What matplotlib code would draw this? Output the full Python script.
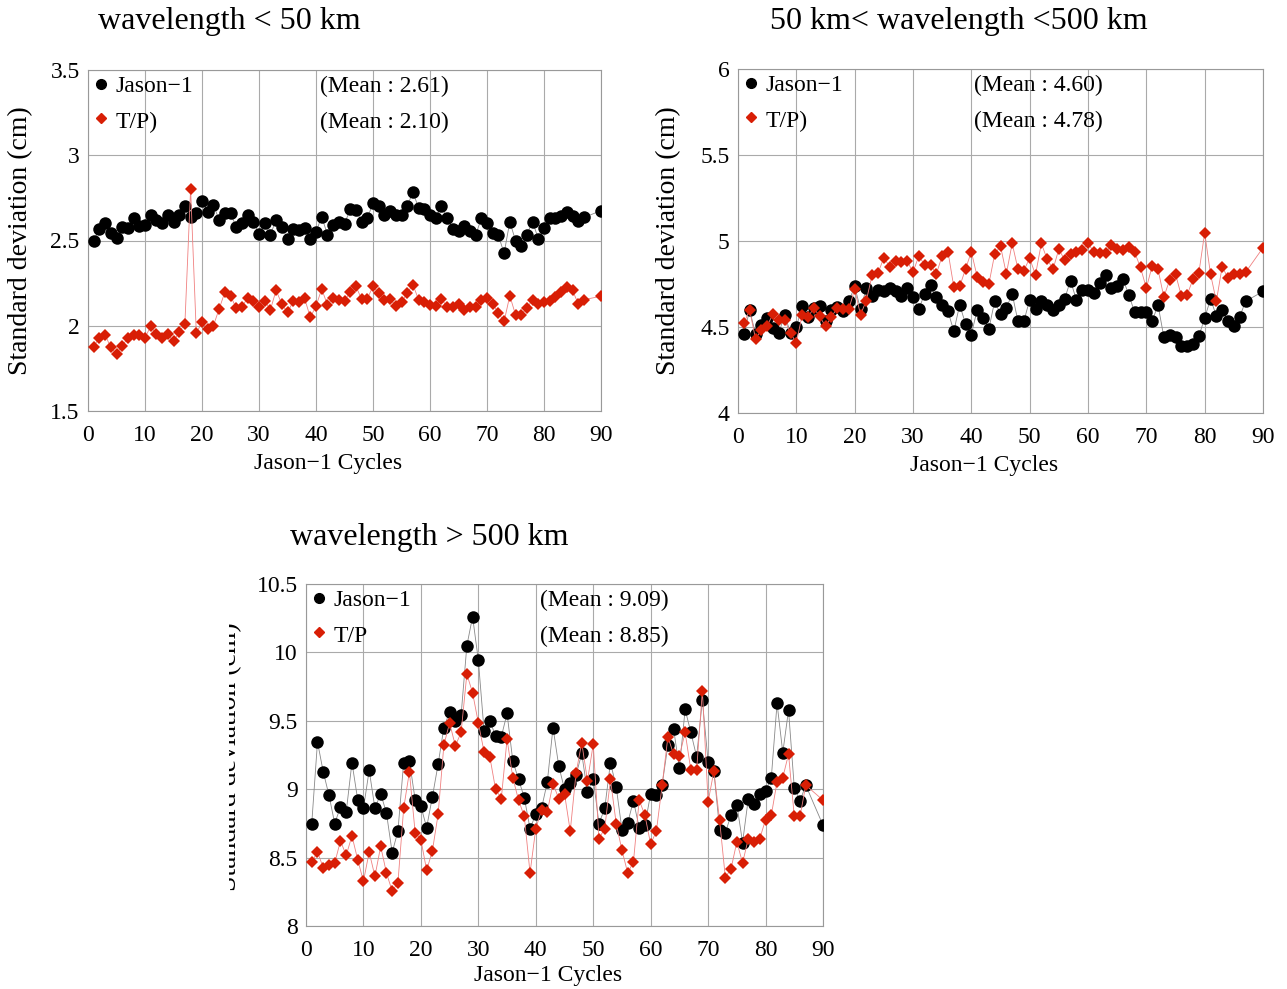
import numpy as np
import matplotlib
matplotlib.use("Agg")
import matplotlib.pyplot as plt
from matplotlib.transforms import Bbox, TransformedBbox

plt.rcParams['font.family'] = ['Liberation Serif', 'DejaVu Serif']

# Jason-1 cycles (88 and 89 are missing)
cycles = np.r_[1:88, 90]

# wavelength < 50 km
jason_short = [2.50, 2.565, 2.60, 2.545, 2.515, 2.58, 2.575, 2.63, 2.585, 2.59,
               2.65, 2.62, 2.60, 2.65, 2.61, 2.65, 2.70, 2.64, 2.66, 2.73,
               2.67, 2.71, 2.62, 2.66, 2.66, 2.58, 2.60, 2.65, 2.61, 2.54,
               2.60, 2.535, 2.62, 2.58, 2.51, 2.565, 2.56, 2.575, 2.51, 2.55,
               2.64, 2.535, 2.59, 2.61, 2.595, 2.685, 2.68, 2.61, 2.63, 2.72,
               2.70, 2.65, 2.675, 2.65, 2.65, 2.70, 2.785, 2.69, 2.685, 2.65,
               2.63, 2.70, 2.63, 2.57, 2.555, 2.585, 2.555, 2.53, 2.63, 2.60,
               2.545, 2.53, 2.425, 2.61, 2.50, 2.47, 2.535, 2.61, 2.51, 2.575,
               2.63, 2.63, 2.645, 2.665, 2.645, 2.615, 2.635, 2.675]
tp_short = [1.878, 1.931, 1.947, 1.873, 1.835, 1.884, 1.927, 1.943, 1.943, 1.931,
            1.996, 1.951, 1.927, 1.951, 1.908, 1.963, 2.012, 2.804, 1.957, 2.02,
            1.98, 2.0, 2.098, 2.196, 2.176, 2.104, 2.11, 2.163, 2.147, 2.11,
            2.147, 2.094, 2.208, 2.127, 2.078, 2.143, 2.14, 2.16, 2.05, 2.114,
            2.216, 2.123, 2.163, 2.149, 2.147, 2.198, 2.231, 2.157, 2.159, 2.231,
            2.192, 2.153, 2.159, 2.114, 2.137, 2.192, 2.241, 2.153, 2.139, 2.124,
            2.114, 2.159, 2.11, 2.11, 2.129, 2.094, 2.11, 2.108, 2.153, 2.163,
            2.129, 2.075, 2.025, 2.176, 2.065, 2.065, 2.104, 2.153, 2.129, 2.139,
            2.143, 2.169, 2.2, 2.227, 2.208, 2.129, 2.153, 2.173]

# 50 km < wavelength < 500 km
jason_mid = [4.461, 4.597, 4.461, 4.514, 4.552, 4.494, 4.465, 4.571, 4.465, 4.50,
             4.62, 4.556, 4.61, 4.624, 4.533, 4.597, 4.616, 4.591, 4.649, 4.736,
             4.604, 4.726, 4.678, 4.716, 4.707, 4.726, 4.712, 4.678, 4.726, 4.674,
             4.604, 4.693, 4.745, 4.674, 4.629, 4.591, 4.475, 4.629, 4.519, 4.456,
             4.60, 4.552, 4.488, 4.65, 4.575, 4.61, 4.693, 4.533, 4.533, 4.658,
             4.604, 4.649, 4.629, 4.597, 4.629, 4.664, 4.77, 4.658, 4.716, 4.716,
             4.697, 4.755, 4.803, 4.726, 4.736, 4.778, 4.687, 4.585, 4.585, 4.585,
             4.533, 4.629, 4.442, 4.456, 4.442, 4.392, 4.392, 4.403, 4.446, 4.552,
             4.662, 4.566, 4.60, 4.533, 4.508, 4.558, 4.649, 4.707]
tp_mid = [4.523, 4.597, 4.432, 4.481, 4.508, 4.575, 4.539, 4.539, 4.465, 4.407,
          4.571, 4.558, 4.61, 4.562, 4.504, 4.558, 4.61, 4.604, 4.604, 4.72,
          4.571, 4.654, 4.803, 4.813, 4.903, 4.851, 4.884, 4.88, 4.884, 4.819,
          4.913, 4.861, 4.861, 4.809, 4.913, 4.938, 4.732, 4.736, 4.836, 4.938,
          4.793, 4.764, 4.749, 4.923, 4.971, 4.809, 4.986, 4.836, 4.828, 4.90,
          4.803, 4.986, 4.894, 4.836, 4.952, 4.89, 4.925, 4.934, 4.948, 4.986,
          4.938, 4.929, 4.929, 4.977, 4.952, 4.948, 4.967, 4.934, 4.846, 4.726,
          4.855, 4.836, 4.674, 4.774, 4.809, 4.681, 4.687, 4.778, 4.813, 5.048,
          4.809, 4.649, 4.851, 4.784, 4.809, 4.809, 4.817, 4.961]

# wavelength > 500 km
jason_long = [8.749, 9.346, 9.127, 8.956, 8.749, 8.871, 8.834, 9.195, 8.924, 8.859,
              9.139, 8.859, 8.968, 8.827, 8.537, 8.693, 9.195, 9.207, 8.924, 8.876,
              8.72, 8.944, 9.183, 9.451, 9.566, 9.498, 9.541, 10.049, 10.261, 9.944,
              9.427, 9.50, 9.39, 9.383, 9.554, 9.207, 9.071, 8.939, 8.712, 8.817,
              8.86, 9.05, 9.451, 9.17, 9.0, 9.046, 9.102, 9.261, 8.976, 9.078,
              8.749, 8.859, 9.195, 9.017, 8.705, 8.754, 8.915, 8.72, 8.737, 8.968,
              8.956, 9.034, 9.322, 9.437, 9.156, 9.583, 9.415, 9.237, 9.651, 9.20,
              9.132, 8.705, 8.68, 8.815, 8.888, 8.61, 8.932, 8.895, 8.963, 8.985,
              9.083, 9.627, 9.268, 9.578, 9.012, 8.915, 9.029, 8.737]
tp_long = [8.468, 8.541, 8.427, 8.444, 8.461, 8.622, 8.517, 8.659, 8.485, 8.327,
           8.541, 8.363, 8.583, 8.388, 8.256, 8.315, 8.859, 9.127, 8.683, 8.632,
           8.407, 8.549, 8.817, 9.322, 9.485, 9.317, 9.415, 9.841, 9.705, 9.485,
           9.273, 9.237, 9.0, 8.932, 9.366, 9.085, 8.92, 8.802, 8.388, 8.712,
           8.846, 8.834, 9.041, 8.93, 8.968, 8.693, 9.115, 9.341, 9.061, 9.329,
           8.639, 8.712, 9.071, 8.749, 8.554, 8.388, 8.468, 8.92, 8.81, 8.598,
           8.695, 9.029, 9.383, 9.254, 9.241, 9.415, 9.139, 9.139, 9.72, 8.907,
           9.132, 8.773, 8.354, 8.42, 8.615, 8.461, 8.639, 8.615, 8.639, 8.778,
           8.81, 9.054, 9.085, 9.256, 8.802, 8.802, 9.029, 8.92]

W, H = 1287, 989
fig = plt.figure(figsize=(W / 100, H / 100), dpi=100)


def px_axes(x0, x1, y0, y1):
    # axes from pixel box (top-left origin)
    return fig.add_axes([x0 / W, 1 - y1 / H, (x1 - x0) / W, (y1 - y0) / H])


def draw_panel(ax, jas, tp, ylim, yticks, ylabels, means, tp_label, mean_x):
    ax.plot(cycles, jas, color='#888888', lw=0.6, zorder=2)
    ax.plot(cycles, jas, 'o', color='black', ms=9, mew=0, zorder=3)
    ax.plot(cycles, tp, color='#f08080', lw=0.6, zorder=4)
    ax.plot(cycles, tp, 'D', color='#d81e05', ms=6.5, mew=0, zorder=5)
    ax.set_xlim(0, 90)
    ax.set_ylim(*ylim)
    ax.set_xticks(range(0, 91, 10))
    ax.set_yticks(yticks)
    ax.set_yticklabels(ylabels)
    ax.grid(True, color='#aaaaaa', lw=0.8)
    ax.set_axisbelow(True)
    for s in ax.spines.values():
        s.set_color('#999999')
        s.set_linewidth(0.8)
    ax.tick_params(length=0, labelsize=17)
    ax.tick_params(axis='x', pad=10)
    ax.tick_params(axis='y', pad=6)
    # legend-like labels
    ax.plot([0.025], [0.958], 'o', color='black', ms=7, transform=ax.transAxes, clip_on=False)
    ax.plot([0.025], [0.86], 'D', color='#d81e05', ms=5, transform=ax.transAxes, clip_on=False)
    ax.text(0.053, 0.952, 'Jason\u22121', transform=ax.transAxes, fontsize=17, va='center')
    ax.text(0.053, 0.847, tp_label, transform=ax.transAxes, fontsize=17, va='center')
    ax.text(mean_x, 0.952, means[0], transform=ax.transAxes, fontsize=17, va='center')
    ax.text(mean_x, 0.847, means[1], transform=ax.transAxes, fontsize=17, va='center')


ax1 = px_axes(88, 601, 70, 411)
draw_panel(ax1, jason_short, tp_short, (1.5, 3.5), [1.5, 2, 2.5, 3, 3.5],
           ['1.5', '2', '2.5', '3', '3.5'], ['(Mean : 2.61)', '(Mean : 2.10)'], 'T/P)', 0.452)

ax2 = px_axes(738, 1263, 69, 413)
draw_panel(ax2, jason_mid, tp_mid, (4, 6), [4, 4.5, 5, 5.5, 6],
           ['4', '4.5', '5', '5.5', '6'], ['(Mean : 4.60)', '(Mean : 4.78)'], 'T/P)', 0.450)

ax3 = px_axes(306, 823, 584, 926)
draw_panel(ax3, jason_long, tp_long, (8, 10.5), [8, 8.5, 9, 9.5, 10, 10.5],
           ['8', '8.5', '9', '9.5', '10', '10.5'], ['(Mean : 9.09)', '(Mean : 8.85)'], 'T/P', 0.453)

# titles
fig.text(98 / W, 1 - 22 / H, 'wavelength < 50 km', fontsize=23, va='center', ha='left')
fig.text(770 / W, 1 - 22 / H, '50 km< wavelength <500 km', fontsize=23, va='center', ha='left')
fig.text(290 / W, 1 - 537 / H, 'wavelength > 500 km', fontsize=23, va='center', ha='left')

# axis labels
fig.text(328 / W, 1 - 463 / H, 'Jason\u22121 Cycles', fontsize=17, ha='center', va='center')
fig.text(984 / W, 1 - 465 / H, 'Jason\u22121 Cycles', fontsize=17, ha='center', va='center')
fig.text(548 / W, 1 - 975 / H, 'Jason\u22121 Cycles', fontsize=17, ha='center', va='center')
fig.text(21 / W, 1 - 241 / H, 'Standard deviation (cm)', fontsize=20, rotation=90,
         ha='center', va='center')
fig.text(669 / W, 1 - 241 / H, 'Standard deviation (cm)', fontsize=20, rotation=90,
         ha='center', va='center')
# the third panel's label is cut off in the original
lab3 = fig.text(230 / W, 1 - 757 / H, 'Standard deviation (cm)', fontsize=20, rotation=90,
                ha='center', va='center')
clip = TransformedBbox(Bbox([[229 / W, 0], [260 / W, 1]]), fig.transFigure)
lab3.set_clip_box(clip)
lab3.set_clip_on(True)

fig.savefig('out.png', dpi=100)
